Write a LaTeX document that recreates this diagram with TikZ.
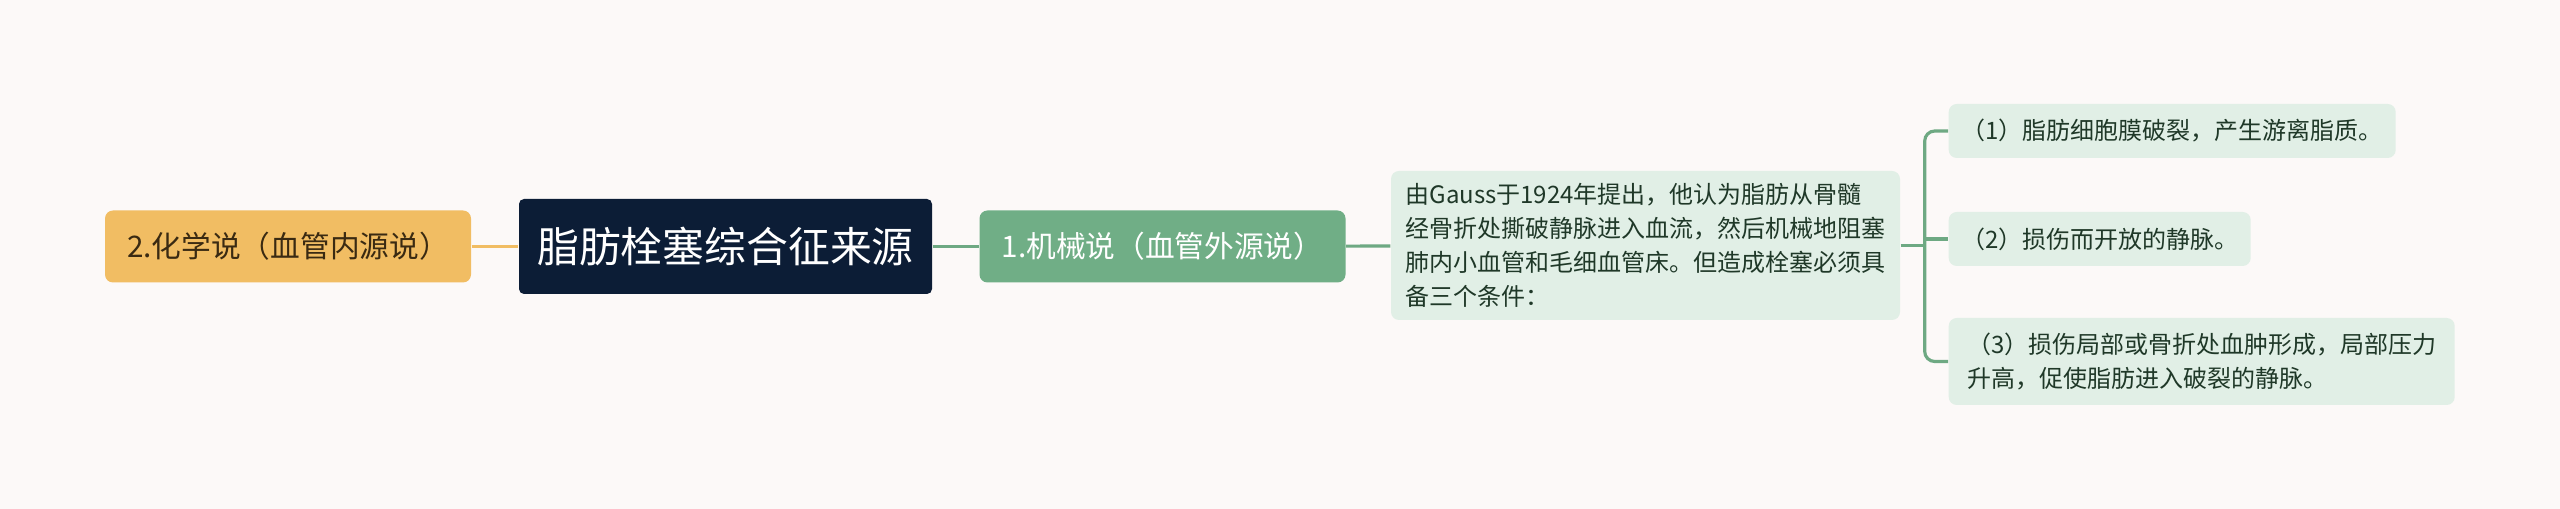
\documentclass[tikz,border=0pt]{standalone}
\usepackage{fontspec}
\setmainfont{Noto Sans CJK SC}
\definecolor{bgcol}{HTML}{FCF9F8}
\definecolor{orangebox}{HTML}{F1BD63}
\definecolor{navybox}{HTML}{0C1D36}
\definecolor{greenbox}{HTML}{70AE86}
\definecolor{palegreen}{HTML}{E1EFE6}
\definecolor{greenline}{HTML}{6EA983}
\definecolor{darktext}{HTML}{3A2A12}
\definecolor{leaftext}{HTML}{1F3828}
\begin{document}
\begin{tikzpicture}[
        card/.style={rounded corners=0.08cm, inner sep=0pt, align=center},
        branch/.style={card, minimum width=3.66cm, minimum height=0.72cm,
            font=\fontsize{8.45}{11}\selectfont},
        leaf/.style={card, align=left, fill=palegreen, text=leaftext, minimum height=0.54cm,
            font=\fontsize{6.83}{9.7}\selectfont},
        link/.style={line width=0.9pt, greenline}
    ]
    \fill[bgcol] (0,0) rectangle (25.6,-5.09);
    \useasboundingbox (0,0) rectangle (25.6,-5.09);

    % centre and two branches
    \node[card, fill=navybox, text=white, rounded corners=0.05cm,
        minimum width=4.13cm, minimum height=0.95cm,
        font=\fontsize{11.9}{14}\selectfont] (root) at (7.255,-2.465) {脂肪栓塞综合征来源};
    \node[branch, fill=orangebox, text=darktext] (chem) at (2.88,-2.465) {2.化学说（血管内源说）};
    \node[branch, fill=greenbox, text=white] (mech) at (11.625,-2.465) {1.机械说（血管外源说）};

    % description of the mechanical theory
    \node[leaf, minimum width=5.09cm, minimum height=1.49cm] (gauss) at (16.455,-2.455)
        {由Gauss于1924年提出，他认为脂肪从骨髓\\经骨折处撕破静脉进入血流，然后机械地阻塞\\肺内小血管和毛细血管床。但造成栓塞必须具\\备三个条件：};

    % the three conditions
    \node[leaf, anchor=west, minimum width=4.47cm] (cond1) at (19.48,-1.31) {（1）脂肪细胞膜破裂，产生游离脂质。};
    \node[leaf, anchor=west, minimum width=3.02cm] (cond2) at (19.48,-2.39) {（2）损伤而开放的静脉。};
    \node[leaf, anchor=west, minimum width=5.06cm, minimum height=0.87cm] (cond3) at (19.48,-3.615)
        {（3）损伤局部或骨折处血肿形成，局部压力\\升高，促使脂肪进入破裂的静脉。};

    \draw[line width=0.9pt, orangebox] (chem) -- (root);
    \draw[link] (root) -- (mech);
    \draw[link] (mech) -- (gauss);
    \draw[link] (gauss.east) -- ++(0.24,0) coordinate (fork);
    \draw[link, rounded corners=0.1cm] (cond1.west) -- (fork |- cond1.west) -- (fork |- cond3.west) -- (cond3.west);
    \draw[link] (fork |- cond2.west) -- (cond2.west);
\end{tikzpicture}
\end{document}
